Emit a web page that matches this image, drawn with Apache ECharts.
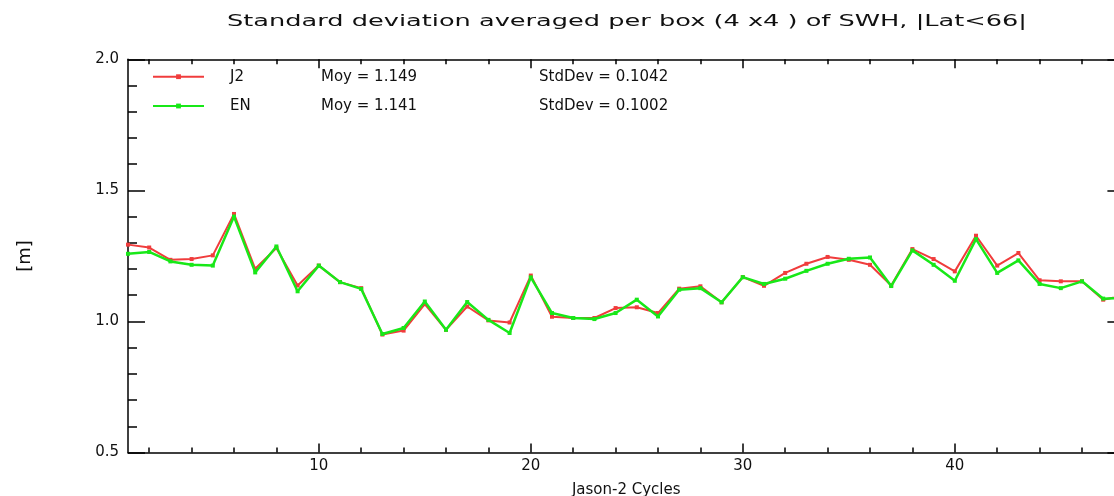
<!DOCTYPE html>
<html><head><meta charset="utf-8">
<script src="https://cdn.jsdelivr.net/npm/echarts@6/dist/echarts.min.js"></script>
<style>html,body{margin:0;padding:0;background:#fff}#c{width:1114px;height:496px}</style>
</head><body><div id="c"></div>
<script>
const titleText = 'Standard deviation averaged per box (4 x4 ) of SWH, |Lat<66|';
const xAxisName = 'Jason-2 Cycles';
const yAxisName = '[m]';
const seriesNames = ['J2', 'EN'];
const seriesMoy = ['1.149', '1.141'];
const seriesStd = ['0.1042', '0.1002'];
const cycles = [1,2,3,4,5,6,7,8,9,10,11,12,13,14,15,16,17,18,19,20,21,22,23,24,25,26,27,28,29,30,31,32,33,34,35,36,37,38,39,40,41,42,43,44,45,46,47,48];
const j2 = [1.293,1.282,1.235,1.238,1.252,1.410,1.201,1.280,1.137,1.213,1.150,1.127,0.950,0.965,1.066,0.968,1.057,1.004,0.996,1.175,1.018,1.013,1.013,1.051,1.054,1.032,1.125,1.134,1.073,1.169,1.136,1.185,1.220,1.246,1.235,1.216,1.137,1.276,1.238,1.191,1.327,1.213,1.261,1.157,1.153,1.153,1.083,1.100];
const en = [1.258,1.265,1.229,1.216,1.213,1.400,1.187,1.286,1.115,1.213,1.150,1.124,0.952,0.975,1.076,0.968,1.074,1.006,0.956,1.168,1.032,1.013,1.009,1.032,1.083,1.019,1.121,1.127,1.073,1.169,1.143,1.163,1.193,1.220,1.239,1.244,1.135,1.271,1.216,1.155,1.314,1.185,1.233,1.143,1.127,1.153,1.087,1.090];
const xMajorTicks = [10, 20, 30, 40];
const xMinorTicks = [2,4,6,8,12,14,16,18,22,24,26,28,32,34,36,38,42,44,46,48];

const FONT = '"DejaVu Sans", sans-serif';
const FAM = 'DejaVu Sans';
const mctx = document.createElement('canvas').getContext('2d');
mctx.font = '15px ' + FONT;
const titleScale = 800 / mctx.measureText(titleText).width;

const ls = { color: '#000', width: 1.5 };
const txt = { fontFamily: FAM, color: '#111' };
const X = { min: 1, max: 48 };
const Y = { min: 0.5, max: 2.0, interval: 0.5 };

const chart = echarts.init(document.getElementById('c'), null, { renderer: 'canvas' });
chart.setOption({
  animation: false,
  backgroundColor: '#fff',
  graphic: [{
    type: 'text', x: 627, y: 22, scaleX: titleScale,
    style: { text: titleText, font: '15px ' + FONT, fill: '#111',
      textAlign: 'center', textVerticalAlign: 'middle', align: 'center', verticalAlign: 'middle' }
  }],
  grid: { left: 128, top: 59.3, width: 996.4, height: 393.2, containLabel: false, outerBoundsMode: 'none' },
  legend: {
    orient: 'vertical', left: 152, top: 67.7, padding: 0, itemWidth: 51, itemHeight: 6, itemGap: 11.3,
    selectedMode: false, data: seriesNames,
    formatter: function (name) {
      const i = seriesNames.indexOf(name);
      return '{s| }{a|' + name + '}{b|Moy = ' + seriesMoy[i] + '}{c|StdDev = ' + seriesStd[i] + '}';
    },
    textStyle: Object.assign({ fontSize: 15, lineHeight: 18 }, txt, {
      rich: {
        s: Object.assign({ width: 21, fontSize: 15 }, txt),
        a: Object.assign({ width: 91, fontSize: 15 }, txt),
        b: Object.assign({ width: 218, fontSize: 15 }, txt),
        c: Object.assign({ fontSize: 15 }, txt)
      }
    })
  },
  xAxis: [
    Object.assign({ type: 'value', position: 'bottom',
      axisLine: { show: true, onZero: false, lineStyle: ls },
      axisTick: { show: true, inside: true, length: 9, customValues: xMajorTicks, lineStyle: ls },
      axisLabel: Object.assign({ show: true, customValues: xMajorTicks, margin: 6, fontSize: 15 }, txt),
      splitLine: { show: false },
      name: xAxisName, nameLocation: 'middle', nameGap: 30, nameMoveOverlap: false,
      nameTextStyle: Object.assign({ fontSize: 15 }, txt) }, X),
    Object.assign({ type: 'value', position: 'bottom',
      axisLine: { show: false, onZero: false },
      axisTick: { show: true, inside: true, length: 5, customValues: xMinorTicks, lineStyle: ls },
      axisLabel: { show: false }, splitLine: { show: false } }, X),
    Object.assign({ type: 'value', position: 'top',
      axisLine: { show: true, onZero: false, lineStyle: ls },
      axisTick: { show: true, inside: true, length: 9, customValues: xMajorTicks, lineStyle: ls },
      axisLabel: { show: false }, splitLine: { show: false } }, X),
    Object.assign({ type: 'value', position: 'top',
      axisLine: { show: false, onZero: false },
      axisTick: { show: true, inside: true, length: 5, customValues: xMinorTicks, lineStyle: ls },
      axisLabel: { show: false }, splitLine: { show: false } }, X)
  ],
  yAxis: [
    Object.assign({ type: 'value', position: 'left',
      axisLine: { show: true, onZero: false, lineStyle: ls },
      axisTick: { show: true, inside: true, length: 17, lineStyle: ls },
      minorTick: { show: true, splitNumber: 5, length: 9, lineStyle: ls },
      axisLabel: Object.assign({ margin: 9, fontSize: 15, formatter: function (v) { return v.toFixed(1); } }, txt),
      splitLine: { show: false }, minorSplitLine: { show: false },
      name: yAxisName, nameLocation: 'middle', nameGap: 94, nameMoveOverlap: false,
      nameTextStyle: Object.assign({ fontSize: 18 }, txt) }, Y),
    Object.assign({ type: 'value', position: 'right',
      axisLine: { show: true, onZero: false, lineStyle: ls },
      axisTick: { show: true, inside: true, length: 17, lineStyle: ls },
      minorTick: { show: true, splitNumber: 5, length: 9, lineStyle: ls },
      axisLabel: { show: false }, splitLine: { show: false }, minorSplitLine: { show: false } }, Y)
  ],
  series: [
    { name: seriesNames[0], type: 'line', xAxisIndex: 0, yAxisIndex: 0,
      data: cycles.map(function (c, i) { return [c, j2[i]]; }),
      symbol: 'rect', symbolSize: 4, z: 2,
      lineStyle: { color: '#f03c3c', width: 2 }, itemStyle: { color: '#f03c3c' } },
    { name: seriesNames[1], type: 'line', xAxisIndex: 0, yAxisIndex: 0,
      data: cycles.map(function (c, i) { return [c, en[i]]; }),
      symbol: 'rect', symbolSize: 4, z: 3,
      lineStyle: { color: '#18e818', width: 2.5 }, itemStyle: { color: '#18e818' } }
  ]
});
</script></body></html>
